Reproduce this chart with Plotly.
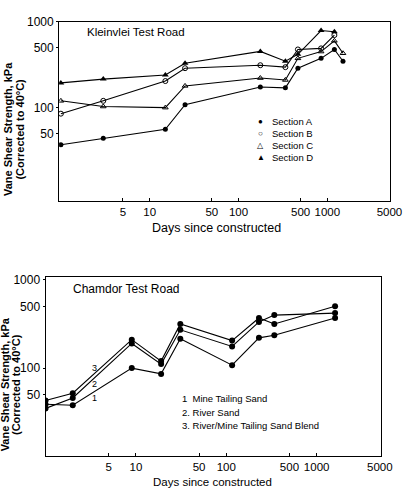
import plotly.graph_objects as go

# ---------------- data: Kleinvlei Test Road ----------------
k_days_A = [1, 3, 15, 25, 176, 337, 466, 850, 1200, 1500]
k_sec_A = [37, 44, 56, 108, 174, 170, 288, 375, 476, 347]
k_days_B = [1, 3, 15, 25, 176, 337, 466, 850, 1200]
k_sec_B = [85, 120, 204, 288, 312, 296, 476, 490, 700]
k_days_C = [1, 3, 15, 25, 176, 337, 466, 850, 1200, 1500]
k_sec_C = [120, 103, 100, 179, 221, 210, 375, 450, 600, 430]
k_days_D = [1, 3, 15, 25, 176, 337, 466, 850, 1200]
k_sec_D = [194, 215, 240, 329, 452, 347, 418, 790, 767]

# ---------------- data: Chamdor Test Road ----------------
c_days = [1, 2, 9, 19, 31, 116, 230, 340, 1600]
c_mine = [39, 38, 100, 86, 215, 108, 220, 235, 369]
c_river = [35, 46, 190, 111, 271, 176, 333, 398, 419]
c_blend = [43, 52, 210, 120, 316, 205, 369, 316, 500]

x_tickvals = [5, 10, 50, 100, 500, 1000, 5000]
x_ticktext = ["5", "10", "50", "100", "500", "1000", "5000"]
y_tickvals = [50, 100, 500, 1000]
y_ticktext = ["50", "100", "500", "1000"]

W, H = 419, 489
FONT = "Liberation Sans, Arial, sans-serif"


def px(x):
    return x / W


def py(y):
    return 1 - y / H


fig = go.Figure()

line = dict(color="black", width=1.1)
k_series = [
    (k_days_A, k_sec_A, dict(symbol="circle", size=5, color="black")),
    (k_days_B, k_sec_B, dict(symbol="circle-open", size=5, color="black", line=dict(width=1, color="black"))),
    (k_days_C, k_sec_C, dict(symbol="triangle-up-open", size=5, color="black", line=dict(width=1, color="black"))),
    (k_days_D, k_sec_D, dict(symbol="triangle-up", size=6, color="black")),
]
for d, v, m in k_series:
    fig.add_trace(go.Scatter(x=d, y=v, mode="lines+markers", line=line, marker=m,
                             xaxis="x", yaxis="y", showlegend=False))

for v in (c_mine, c_river, c_blend):
    fig.add_trace(go.Scatter(x=c_days, y=v, mode="lines+markers", line=line,
                             marker=dict(symbol="circle", size=6, color="black"),
                             xaxis="x2", yaxis="y2", showlegend=False))

common_x = dict(type="log", tickvals=x_tickvals, ticktext=x_ticktext, showline=True, mirror=True,
                linecolor="black", linewidth=1, ticks="inside", ticklen=3, tickcolor="black",
                showgrid=False, zeroline=False, tickfont=dict(family=FONT, size=11.5, color="black"))
common_y = dict(type="log", tickvals=y_tickvals, ticktext=y_ticktext, showline=True, mirror=True,
                linecolor="black", linewidth=1, ticks="outside", ticklen=2, tickcolor="black",
                showgrid=False, zeroline=False, tickfont=dict(family=FONT, size=12, color="black"))

fig.update_layout(
    width=W, height=H,
    margin=dict(l=0, r=0, t=0, b=0),
    paper_bgcolor="white", plot_bgcolor="white",
    xaxis=dict(common_x, domain=[px(61), px(402)], range=[-0.02, 3.7], anchor="y"),
    yaxis=dict(common_y, domain=[py(197), py(15)], range=[0.91, 3.0], anchor="x"),
    xaxis2=dict(common_x, domain=[px(47), px(393)], range=[0, 3.71], anchor="y2"),
    yaxis2=dict(common_y, domain=[py(456), py(274)], range=[1.0, 3.03], anchor="x2"),
)

ann = []


def text(x, y, s, size=10, bold=False, angle=0, xanchor="center"):
    ann.append(dict(x=px(x), y=py(y), xref="paper", yref="paper", text=("<b>%s</b>" % s) if bold else s,
                    showarrow=False, textangle=angle, xanchor=xanchor, yanchor="middle",
                    font=dict(family=FONT, size=size, color="black")))


# titles
text(88, 25, "Kleinvlei Test Road", size=11.5, xanchor="left")
text(73, 286, "Chamdor Test Road", size=12, xanchor="left")

# axis titles
for cy, x1, x2 in ((124, 8, 21), (383, 5, 16)):
    text(x1, cy, "Vane Shear Strength, kPa", size=11, bold=True, angle=-90)
    text(x2, cy, "(Corrected to 40°C)", size=11, bold=True, angle=-90)
text(223, 224, "Days since constructed", size=12.5)
text(219, 482, "Days since constructed", size=11.5)

# Kleinvlei legend
leg = [("●", "Section A"), ("○", "Section B"), ("△", "Section C"), ("▲", "Section D")]
for i, (sym, lab) in enumerate(leg):
    yy = 116 + i * 12.3
    text(269, yy, sym, size=8)
    text(279, yy, lab, size=9.5, xanchor="left")

# Chamdor legend
for i, lab in enumerate(["1  Mine Tailing Sand", "2. River Sand", "3. River/Mine Tailing Sand Blend"]):
    text(186, 397 + i * 14, lab, size=9.5, xanchor="left")

# curve labels
text(98, 366, "3", size=9)
text(98, 382, "2", size=9)
text(98, 397, "1", size=9)

fig.update_layout(annotations=ann)
fig.write_html("out.html", config={"displayModeBar": False},
               post_script="document.body.style.margin='0px';")
